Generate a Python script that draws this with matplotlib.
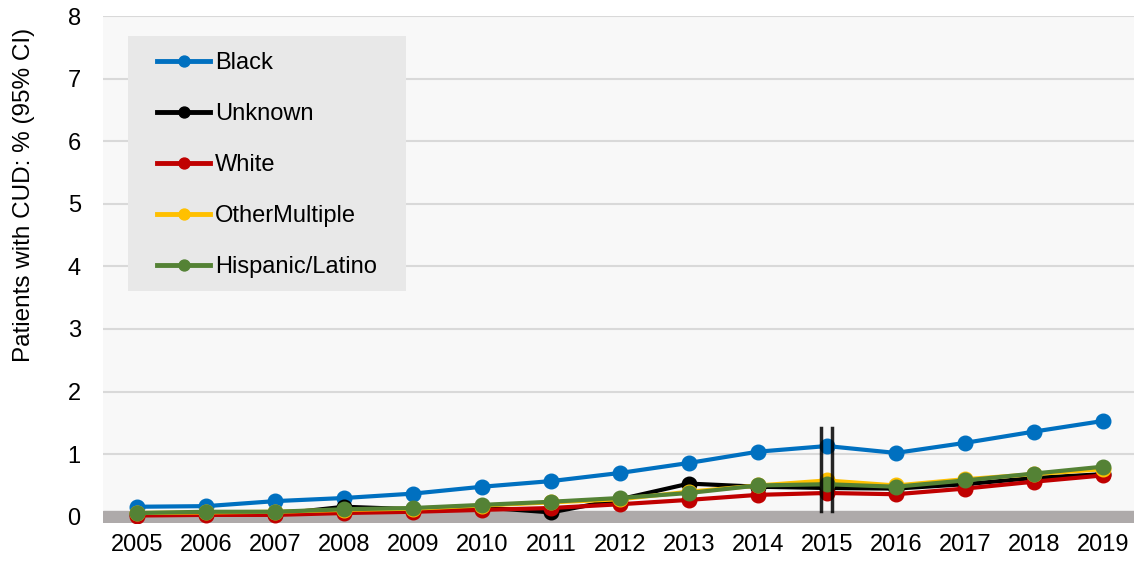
import numpy as np
import matplotlib.pyplot as plt
from matplotlib.patches import Rectangle

plt.rcParams['font.family'] = ['Liberation Sans', 'DejaVu Sans']

years = list(range(2005, 2020))
black = [0.16, 0.17, 0.25, 0.30, 0.37, 0.48, 0.57, 0.70, 0.86, 1.04, 1.13, 1.02, 1.18, 1.36, 1.53]
unknown = [0.04, 0.05, 0.04, 0.16, 0.12, 0.15, 0.07, 0.28, 0.53, 0.48, 0.46, 0.45, 0.52, 0.62, 0.68]
white = [0.02, 0.03, 0.03, 0.06, 0.08, 0.11, 0.14, 0.20, 0.27, 0.35, 0.38, 0.36, 0.45, 0.56, 0.66]
other = [0.06, 0.07, 0.08, 0.11, 0.13, 0.18, 0.23, 0.28, 0.40, 0.50, 0.58, 0.50, 0.60, 0.68, 0.76]
hispanic = [0.06, 0.08, 0.08, 0.12, 0.14, 0.19, 0.24, 0.30, 0.38, 0.50, 0.52, 0.48, 0.58, 0.69, 0.80]
unknown_err = [0.01, 0.01, 0.01, 0.02, 0.02, 0.02, 0.02, 0.03, 0.06, 0.05, 0.04, 0.05, 0.05, 0.06, 0.08]

series = [("Black", black, "#0070c0"),
          ("Unknown", unknown, "#000000"),
          ("White", white, "#c00000"),
          ("OtherMultiple", other, "#ffc000"),
          ("Hispanic/Latino", hispanic, "#548235")]

fig = plt.figure(figsize=(11.34, 5.63), dpi=100)
ax = fig.add_axes([0.0908, 0.071, 0.912, 0.9005])
ax.set_facecolor("#f8f8f8")

ax.axhspan(-0.1, 0.1, color="#aeaaaa", zorder=1)
for v in range(1, 9):
    ax.axhline(v, color="#d9d9d9", linewidth=1.5, zorder=0)

ax.errorbar(years, unknown, yerr=unknown_err, fmt="none", ecolor="black",
            elinewidth=1, capsize=4, zorder=2)

for name, vals, col in series:
    ax.plot(years, vals, color=col, linewidth=3, marker="o", markersize=10.5,
            label=name, zorder=3)

# axis-break marks at 2015
for xb in [2014.91, 2015.07]:
    ax.plot([xb, xb], [0.1, 1.42], color="black", linewidth=2.5, alpha=0.85, zorder=4)

ax.set_xlim(2004.5, 2019.5)
ax.set_ylim(-0.1, 8)
ax.set_xticks(years)
ax.set_yticks(range(0, 9))
ax.tick_params(axis="both", length=0, labelsize=17, colors="black")
ax.tick_params(axis="x", pad=8)
ax.tick_params(axis="y", pad=16)
for s in ax.spines.values():
    s.set_visible(False)
ax.set_ylabel("Patients with CUD: % (95% CI)", fontsize=17.5)
ax.yaxis.set_label_coords(-0.066, 0.647)

# legend box drawn separately
ax.add_patch(Rectangle((0.0242, 0.4576), 0.2689, 0.503, transform=ax.transAxes,
                       facecolor="#e8e8e8", edgecolor="none", zorder=5))
leg = ax.legend(loc="upper left", bbox_to_anchor=(0.0522, 0.929), fontsize=17,
                frameon=False, handlelength=2.25, handletextpad=0.2,
                labelspacing=1.23, borderpad=0, borderaxespad=0,
                markerscale=0.75)
leg.set_zorder(6)
for line in leg.get_lines():
    line.set_linewidth(3.5)

fig.savefig("out.png", dpi=100, facecolor="white")
